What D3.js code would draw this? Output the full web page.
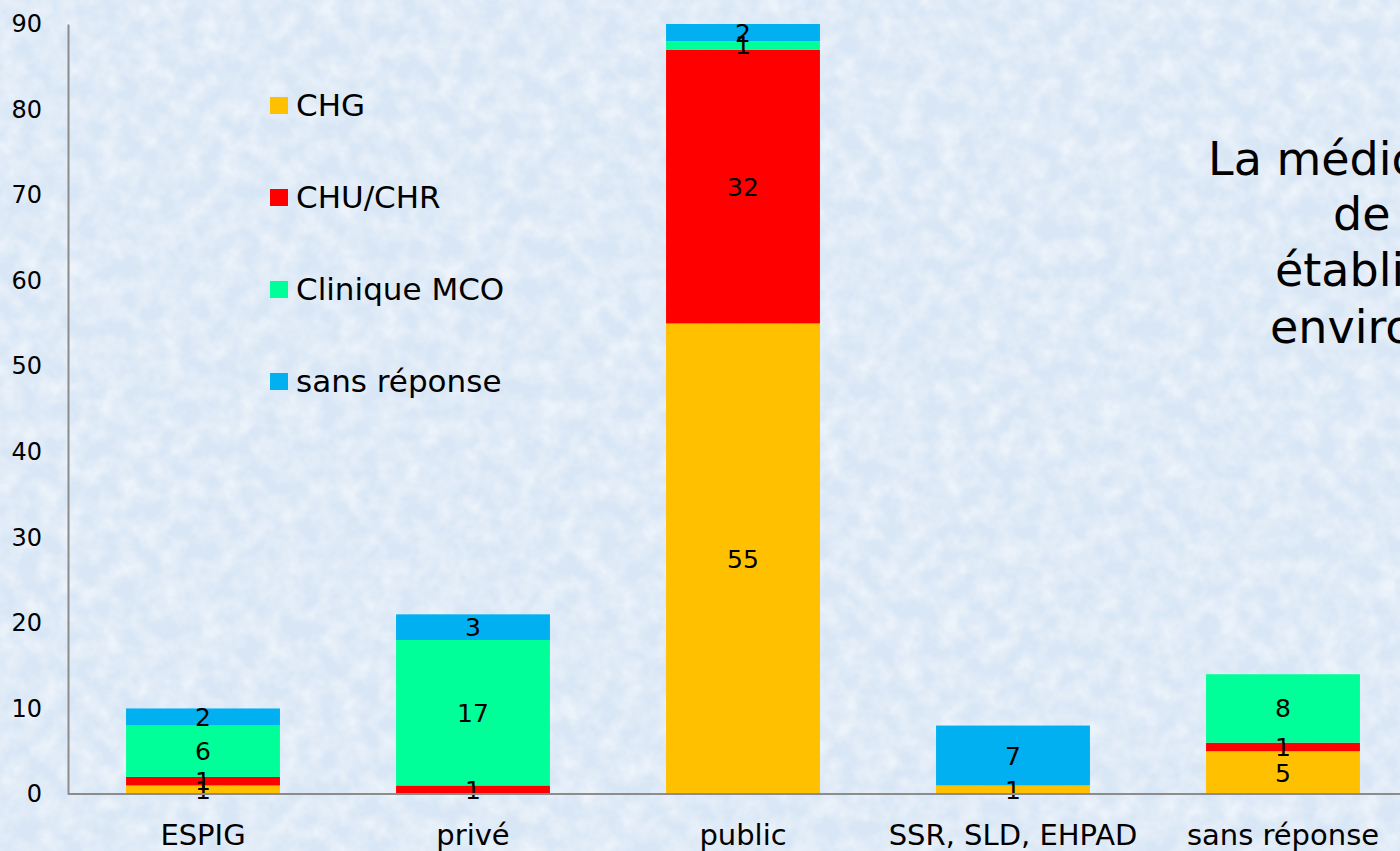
<!DOCTYPE html>
<html><head><meta charset="utf-8">
<script src="https://cdn.jsdelivr.net/npm/d3@7"></script>
<style>html,body{margin:0;padding:0;overflow:hidden;background:#dae8f6}svg{display:block}</style>
</head><body>
<script>
const categories = ["ESPIG", "privé", "public", "SSR, SLD, EHPAD", "sans réponse"];
const seriesNames = ["CHG", "CHU/CHR", "Clinique MCO", "sans réponse"];
const CHG = [1, 0, 55, 1, 5];
const CHU = [1, 1, 32, 0, 1];
const Clinique = [6, 17, 1, 0, 8];
const sansReponse = [2, 3, 2, 7, 0];
const yTicks = [0, 10, 20, 30, 40, 50, 60, 70, 80, 90];
const colors = ["#FFC000", "#FF0000", "#00FF99", "#00B0F0"];
const sideText = ["La médicament", "de", "établissements", "environ"];

const W = 1400, H = 851;
const svg = d3.select("body").append("svg").attr("width", W).attr("height", H);
const defs = svg.append("defs");
const f = defs.append("filter").attr("id","tex").attr("x",0).attr("y",0).attr("width","100%").attr("height","100%");
f.append("feTurbulence").attr("type","fractalNoise").attr("baseFrequency","0.05").attr("numOctaves",3).attr("seed",7).attr("result","n");
f.append("feColorMatrix").attr("in","n").attr("type","matrix")
 .attr("values","0 0 0 0 1  0 0 0 0 1  0 0 0 0 1  1.8 0 0 0 -0.55").attr("result","c");
f.append("feComposite").attr("in","c").attr("in2","SourceGraphic").attr("operator","in");
svg.append("rect").attr("width",W).attr("height",H).attr("fill","#d8e6f5");
svg.append("rect").attr("width",W).attr("height",H).attr("fill","#fff").attr("filter","url(#tex)").attr("opacity",0.55);

const font = "'DejaVu Sans', sans-serif";
const x0 = 68, y0 = 794, yTop = 24;
const x = d3.scaleBand().domain(categories).range([x0, x0 + 5*270]).paddingInner(0.43).paddingOuter(0.215);
const y = d3.scaleLinear().domain([0, 90]).range([y0, yTop]);

const rows = categories.map((c,i)=>({cat:c, CHG:CHG[i], "CHU/CHR":CHU[i], "Clinique MCO":Clinique[i], "sans réponse":sansReponse[i]}));
const stack = d3.stack().keys(seriesNames)(rows);

const g = svg.append("g");
stack.forEach((layer, li) => {
  layer.forEach(d => {
    const v = d[1]-d[0];
    if (v <= 0) return;
    g.append("rect").attr("x", x(d.data.cat)).attr("width", x.bandwidth())
      .attr("y", y(d[1])).attr("height", y(d[0]) - y(d[1])).attr("fill", colors[li]);
  });
});
stack.forEach((layer, li) => {
  layer.forEach(d => {
    const v = d[1]-d[0];
    if (v <= 0) return;
    g.append("text").attr("x", x(d.data.cat) + x.bandwidth()/2).attr("y", y((d[0]+d[1])/2))
      .attr("dy","0.36em").attr("text-anchor","middle").attr("font-family",font).attr("font-size",25)
      .attr("fill","#000").text(v);
  });
});

// axes
const yAxis = d3.axisLeft(y).tickValues(yTicks).tickSize(0).tickPadding(26);
const ya = svg.append("g").attr("transform",`translate(${x0},0)`).call(yAxis);
ya.select(".domain").attr("stroke","#8c8c8c").attr("stroke-width",2);
ya.selectAll("text").attr("font-family",font).attr("font-size",24).attr("fill","#000");

const xAxis = d3.axisBottom(x).tickSize(0).tickPadding(30);
const xa = svg.append("g").attr("transform",`translate(0,${y0})`).call(xAxis);
xa.select(".domain").attr("stroke","#8c8c8c").attr("stroke-width",2).attr("d",`M${x0},0H${W}`);
xa.selectAll("text").attr("font-family",font).attr("font-size",29).attr("fill","#000");

// legend
const lg = svg.append("g");
seriesNames.forEach((s,i)=>{
  const ly = 105 + i*92;
  lg.append("rect").attr("x",270).attr("y",ly-8).attr("width",18).attr("height",17).attr("fill",colors[i]);
  lg.append("text").attr("x",296).attr("y",ly).attr("dy","0.36em").attr("font-family",font).attr("font-size",31).attr("fill","#000").text(s);
});

// side text (cropped at the right edge, as in the reference)
const sx = [1208, 1333, 1275, 1270];
const sy = [158, 213, 269, 326];
sideText.forEach((t,i)=>{
  svg.append("text").attr("x",sx[i]).attr("y",sy[i]).attr("dy","0.36em").attr("font-family",font).attr("font-size",46).attr("fill","#000").text(t);
});
</script>
</body></html>
